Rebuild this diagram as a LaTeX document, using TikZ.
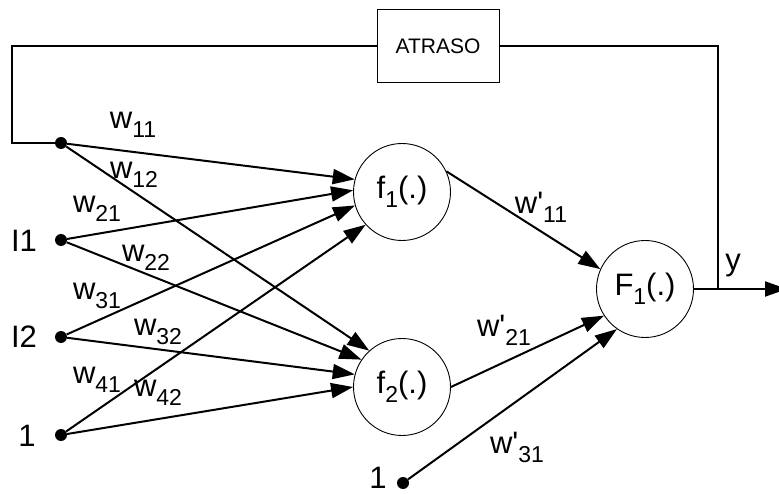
\documentclass[tikz,border=0pt]{standalone}
\usepackage{fontspec}
\newfontfamily\af{Liberation Sans}
\usetikzlibrary{arrows.meta}
\newcommand\subl[1]{\raisebox{-9pt}{\fontsize{23}{23}\selectfont #1}}
\newcommand\wtlab[1]{w\subl{#1}}
\newcommand\wplab[1]{w{\char39}\subl{#1}}
\begin{document}
\begin{tikzpicture}[x=1pt,y=-1pt,
  every node/.style={font=\af\fontsize{31}{31}\selectfont, inner sep=0pt},
  neuron/.style={circle, draw, line width=0.9pt, minimum size=97pt},
  dot/.style={circle, fill, minimum size=12pt},
  con/.style={line width=2pt},
  arr/.style={con, -{Triangle[length=22pt,width=15pt]}},
  lbl/.style={anchor=center},
  delaybox/.style={draw, line width=0.9pt, minimum width=122pt, minimum height=73pt, font=\af\fontsize{21}{21}\selectfont}]
\useasboundingbox (0,0) rectangle (779,494);
% input dots
\node[dot] (x0) at (61,143) {};
\node[dot] (x1) at (61,240) {};
\node[dot] (x2) at (61,337) {};
\node[dot] (x3) at (61,435) {};
\node[dot] (b2) at (403,483) {};
\node (tI1) at (24,241) {I1};
\node (tI2) at (24,337) {I2};
\node (t1) at (27,436) {1};
\node (tb) at (378,478) {1};
% neurons
\node[neuron] (f1) at (402,192) {f\subl{1}(.)};
\node[neuron] (f2) at (402,387) {f\subl{2}(.)};
\node[neuron] (F1) at (645,289) {F\subl{1}(.)};
% delay box
\node[delaybox] (box) at (438,46) {ATRASO};
% connections to f1
\draw[arr] (x0) -- (f1.165);
\draw[arr] (x1) -- (f1.178);
\draw[arr] (x2) -- (f1.196);
\draw[arr] (x3) -- (f1.222);
% connections to f2
\draw[arr] (x0) -- (f2.132);
\draw[arr] (x1) -- (f2.146);
\draw[arr] (x2) -- (f2.165);
\draw[arr] (x3) -- (f2.180);
% output layer
\draw[arr] (f1.25) -- (F1.156);
\draw[arr] (f2.0) -- (F1.213);
\draw[arr] (b2) -- (F1.235);
% output and feedback
\coordinate (jn) at (718,289);
\coordinate (out) at (787,289);
\coordinate (tr) at (718,46);
\coordinate (tl) at (12,46);
\coordinate (bl) at (12,143);
\draw[arr] (F1.east) -- (out);
\draw[con] (jn) -- (tr) -- (box.east);
\draw[con] (box.west) -- (tl) -- (bl) -- (x0);
% weight labels
\node[lbl] (w11) at (133,125) {\wtlab{11}};
\node[lbl] (w12) at (134,175) {\wtlab{12}};
\node[lbl] (w21) at (97,209) {\wtlab{21}};
\node[lbl] (w22) at (146,258) {\wtlab{22}};
\node[lbl] (w31) at (97,296) {\wtlab{31}};
\node[lbl] (w32) at (158,332) {\wtlab{32}};
\node[lbl] (w41) at (97,380) {\wtlab{41}};
\node[lbl] (w42) at (158,393) {\wtlab{42}};
\node[lbl] (v11) at (541,207) {\wplab{11}};
\node[lbl] (v21) at (504,330) {\wplab{21}};
\node[lbl] (v31) at (517,447) {\wplab{31}};
\node[lbl] (ty) at (733,266) {y};
\end{tikzpicture}
\end{document}
